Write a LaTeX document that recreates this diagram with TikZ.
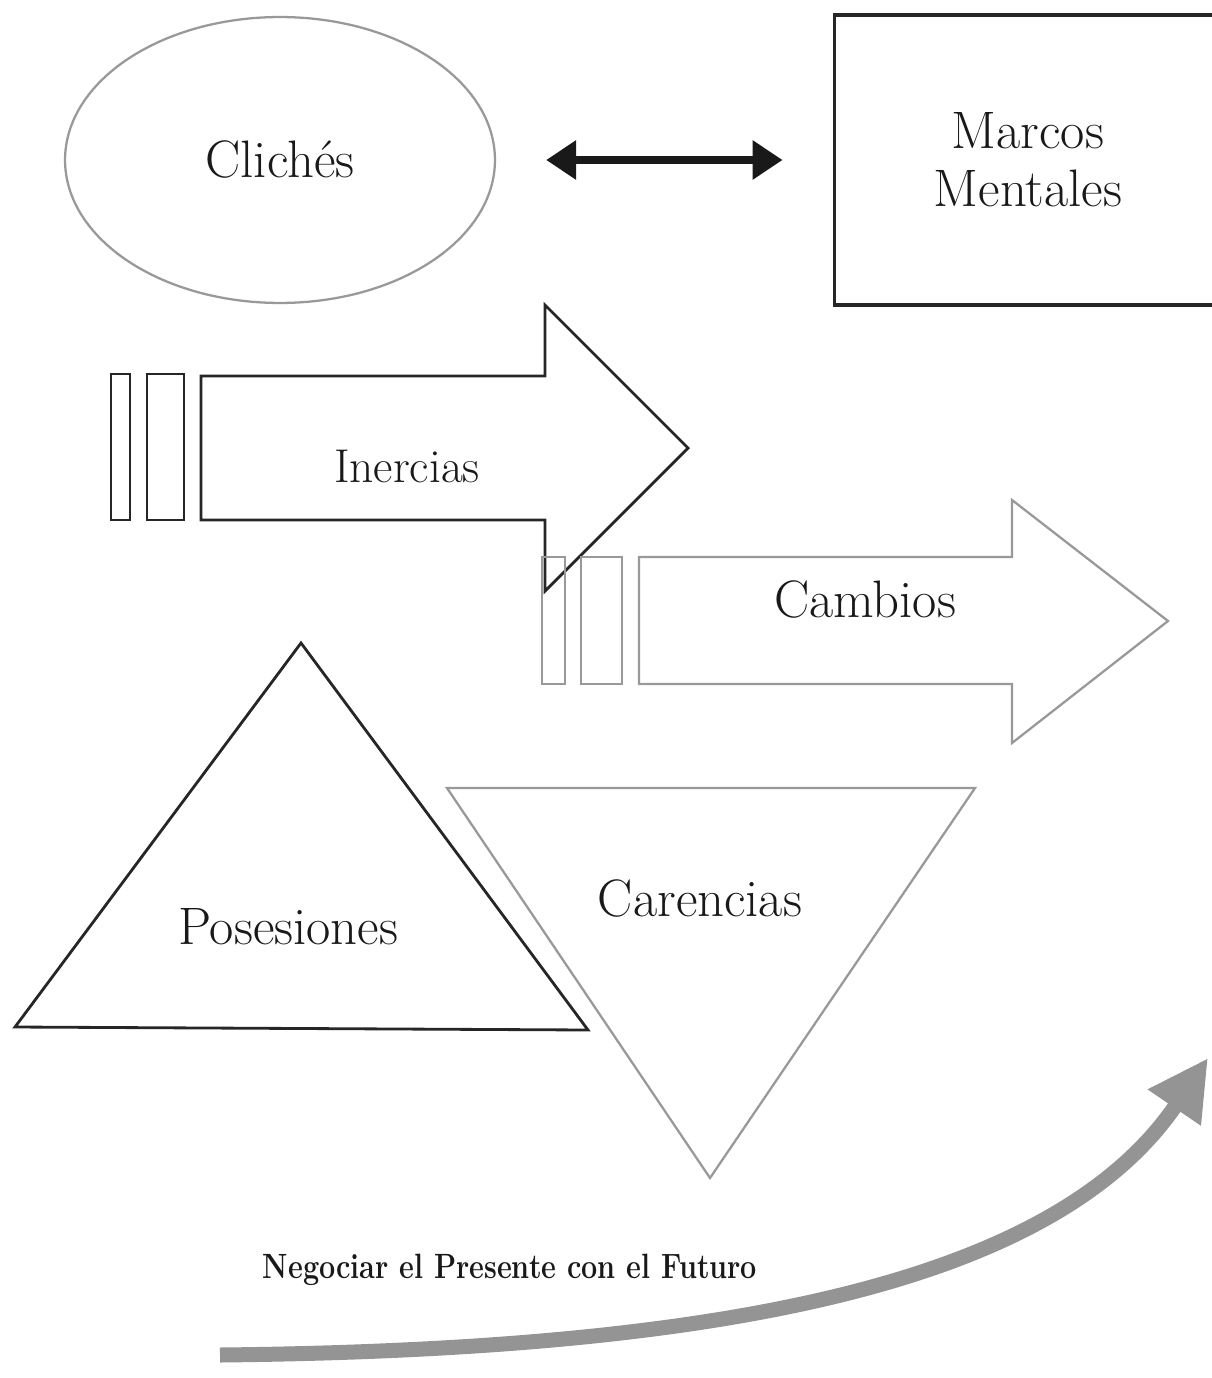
\documentclass[tikz,border=0pt]{standalone}
\usetikzlibrary{arrows.meta,shapes.geometric}
\begin{document}
\begin{tikzpicture}[x=0.02cm,y=-0.02cm,
  blk/.style={draw=black!85, line width=1.6pt, line join=miter},
  gry/.style={draw=black!40, line width=1.3pt, line join=miter},
  lbl/.style={font=\fontsize{30}{33}\selectfont, text=black!90}]
\useasboundingbox (0,0) rectangle (1212,1378);
% top row
\node[ellipse, gry, minimum width=8.6cm, minimum height=5.72cm, lbl] (cliches) at (280,160) {Clichés};
\node[rectangle, draw=black!85, line width=2.2pt, minimum width=7.74cm, minimum height=5.8cm, lbl, align=center] (marcos) at (1028,160) {Marcos\\Mentales};
\draw[line width=0.16cm, black!90, {Triangle[length=0.6cm,width=0.75cm]}-{Triangle[length=0.6cm,width=0.75cm]}, shorten <=1cm, shorten >=1cm] (cliches) -- (marcos);
% Inercias arrow
\draw[blk] (111,374) rectangle (130,520);
\draw[blk] (147,374) rectangle (184,520);
\draw[blk] (201,376) -- (545,376) -- (545,305) -- (688,448) -- (545,591) -- (545,520) -- (201,520) -- cycle;
\node[lbl, font=\fontsize{27}{32}\selectfont, anchor=base] (inercias) at (407,482) {Inercias};
% Cambios arrow
\draw[gry] (542,557) rectangle (565,684);
\draw[gry] (581,557) rectangle (622,684);
\draw[gry] (639,557) -- (1012,557) -- (1012,500) -- (1168,621) -- (1012,743) -- (1012,684) -- (639,684) -- cycle;
\node[lbl, anchor=base] (cambios) at (865,617) {Cambios};
% triangles
\draw[blk] (15,1027) -- (301,643) -- (588,1030) -- cycle;
\node[lbl, anchor=base] (posesiones) at (288,944) {Posesiones};
\draw[gry] (447,788) -- (975,788) -- (710,1178) -- cycle;
\node[lbl, anchor=base] (carencias) at (700,916) {Carencias};
% bottom
\node[anchor=base, font=\bfseries\fontsize{20}{24}\selectfont, text=black!90] (neg) at (510,1278) {\scalebox{0.82}[1]{Negociar el Presente con el Futuro}};
\coordinate (cs) at (220,1355);
\coordinate (ce) at (1208,1058);
\draw[line width=0.3cm, black!42, -{Triangle[length=1.2cm,width=1.2cm]}] (cs) .. controls (700,1350) and (1050,1290) .. (ce);
\end{tikzpicture}
\end{document}
